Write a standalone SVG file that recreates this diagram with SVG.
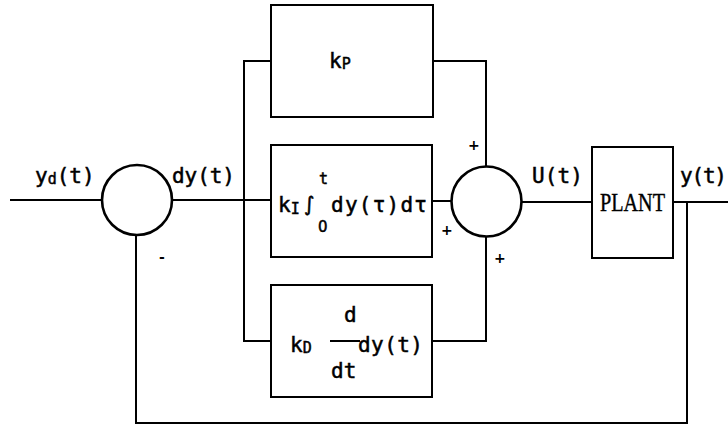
<svg xmlns="http://www.w3.org/2000/svg" width="728" height="426" viewBox="0 0 728 426">
<style>
.ln{fill:none;stroke:#000;stroke-width:2}
.bx{fill:#fff;stroke:#000;stroke-width:2}
.cr{fill:#fff;stroke:#000;stroke-width:2.6}
.t{font-family:"DejaVu Sans Mono","Liberation Mono",monospace;font-size:21px;fill:#000;stroke:#000;stroke-width:0.5}
.s{font-size:15px}
.pm{font-family:"DejaVu Sans","Liberation Sans",sans-serif;font-size:14px;font-weight:bold;fill:#000}
.serif{font-family:"Liberation Serif","Times New Roman",serif;font-size:25px;fill:#000;stroke:#000;stroke-width:0.4}
</style>
<rect width="728" height="426" fill="#fff"/>
<g id="connectors">
<polyline class="ln" points="10,200 102,200"/>
<polyline class="ln" points="172,200 271,200"/>
<polyline class="ln" points="271,61 244,61 244,341 271,341"/>
<polyline class="ln" points="433,61 486,61 486,167"/>
<polyline class="ln" points="432,201 452,201"/>
<polyline class="ln" points="432,341 486,341 486,236"/>
<polyline class="ln" points="521,202 592,202"/>
<polyline class="ln" points="673,202 728,202"/>
<polyline class="ln" points="687,202 687,423 136,423 136,235"/>
</g>
<g id="sum1">
<circle class="cr" cx="137" cy="200" r="35"/>
</g>
<g id="sum2">
<circle class="cr" cx="486.5" cy="201.5" r="35"/>
</g>
<g id="kp">
<rect class="bx" x="271" y="5" width="162" height="112"/>
<text class="t" x="329" y="68">k<tspan class="s" dy="1">P</tspan></text>
</g>
<g id="ki">
<rect class="bx" x="271" y="145" width="161" height="112"/>
<text class="t" x="278" y="212">k<tspan class="s" dy="2">I</tspan></text>
<text class="t" x="304" y="211" style="font-family:'DejaVu Sans',sans-serif;font-size:20px">∫</text>
<text class="t s" x="319" y="184">t</text>
<text class="t s" x="318" y="232" style="font-family:'DejaVu Sans',sans-serif">0</text>
<text class="t" x="331" y="212" textLength="96" lengthAdjust="spacing">dy(τ)dτ</text>
</g>
<g id="kd">
<rect class="bx" x="271" y="285" width="161" height="112"/>
<text class="t" x="290" y="352">k<tspan class="s" dy="1">D</tspan></text>
<line class="ln" x1="330" y1="341" x2="360" y2="341"/>
<text class="t" x="344" y="322">d</text>
<text class="t" x="331" y="378">dt</text>
<text class="t" x="358" y="352" textLength="65" lengthAdjust="spacing">dy(t)</text>
</g>
<g id="plant">
<rect class="bx" x="592" y="147" width="81" height="111"/>
<text class="serif" x="600" y="211" textLength="65" lengthAdjust="spacingAndGlyphs">PLANT</text>
</g>
<g id="labels">
<text class="t" x="35" y="183">y<tspan class="s" dy="1">d</tspan><tspan dy="-1">(t)</tspan></text>
<text class="t" x="172" y="183" textLength="63" lengthAdjust="spacing">dy(t)</text>
<text class="t" x="532" y="183" textLength="51" lengthAdjust="spacing">U(t)</text>
<text class="t" x="680" y="183" textLength="47" lengthAdjust="spacing">y(t)</text>
<text class="pm" x="159" y="262">-</text>
<text class="pm" x="468" y="150">+</text>
<text class="pm" x="441" y="235">+</text>
<text class="pm" x="494" y="263">+</text>
</g>
</svg>
